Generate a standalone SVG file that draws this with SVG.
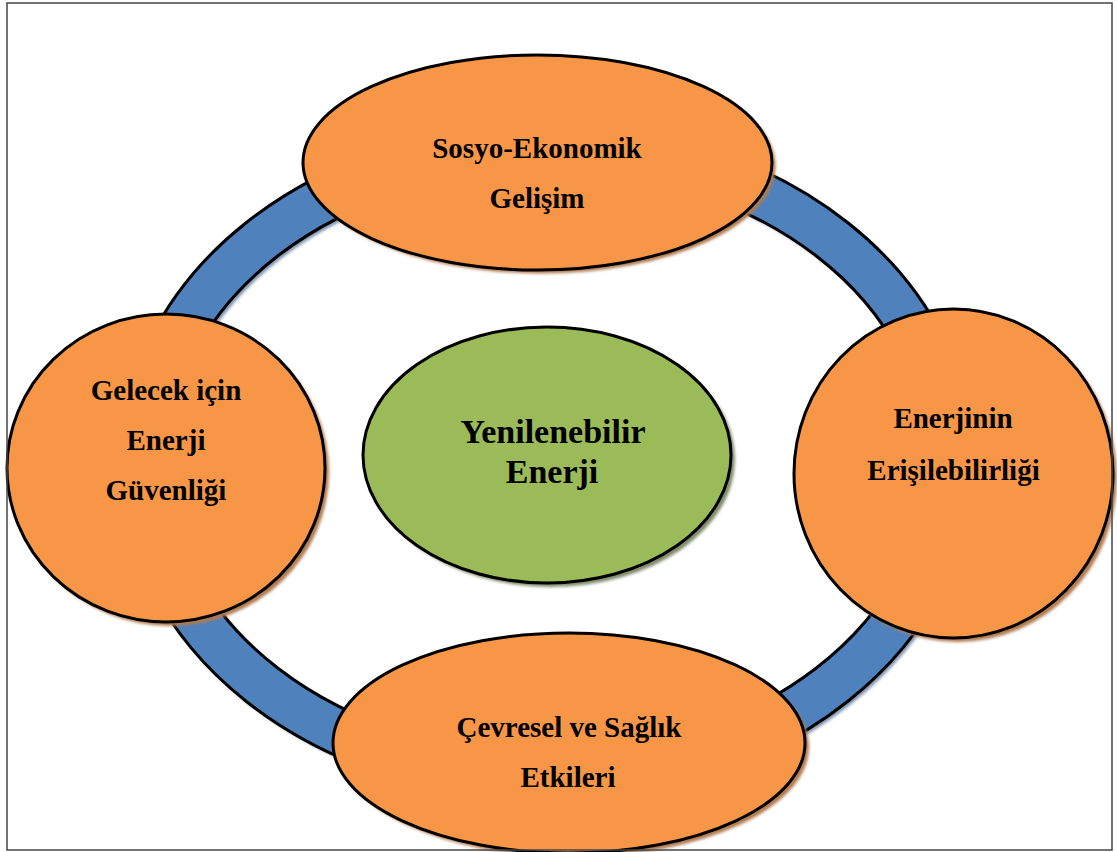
<svg xmlns="http://www.w3.org/2000/svg" width="1117" height="852" viewBox="0 0 1117 852">
  <defs>
    <filter id="soft" x="-10%" y="-10%" width="120%" height="120%">
      <feGaussianBlur stdDeviation="1.6"/>
    </filter>
    <style>
      .page { fill: #ffffff; }
      .frame { fill: none; stroke: #444444; stroke-width: 1.5; }
      .ring { fill: #4f81bd; fill-rule: evenodd; stroke: #000000; stroke-width: 3; }
      .ring-shadow { fill: #7f93ad; fill-rule: evenodd; }
      .orange { fill: #f79646; stroke: #000000; stroke-width: 3; }
      .orange-shadow { fill: #b07a4f; }
      .green { fill: #9bbb59; stroke: #000000; stroke-width: 3; }
      .green-shadow { fill: #7f8a6a; }
      .label { font-family: "Liberation Serif", "Times New Roman", serif; font-weight: bold; font-size: 29px; fill: #000000; text-anchor: middle; }
      .center-label { font-size: 34px; }
    </style>
  </defs>

  <!-- page background -->
  <rect class="page" x="0" y="0" width="1117" height="852"/>

  <!-- cycle band linking the outer topics -->
  <g id="connectors">
    <path class="ring-shadow" filter="url(#soft)" transform="translate(3,3)"
          d="M 121,462 a 426,338 0 1,0 852,0 a 426,338 0 1,0 -852,0 Z M 167,462 a 380,292 0 1,0 760,0 a 380,292 0 1,0 -760,0 Z"/>
    <path class="ring"
          d="M 121,462 a 426,338 0 1,0 852,0 a 426,338 0 1,0 -852,0 Z M 167,462 a 380,292 0 1,0 760,0 a 380,292 0 1,0 -760,0 Z"/>
  </g>

  <!-- centre -->
  <g id="node-center">
    <ellipse class="green-shadow" filter="url(#soft)" cx="551" cy="459" rx="184" ry="128"/>
    <ellipse class="green" cx="547" cy="455" rx="184" ry="128"/>
    <text class="label center-label" x="553" y="443">Yenilenebilir</text>
    <text class="label center-label" x="552" y="483">Enerji</text>
  </g>

  <!-- top -->
  <g id="node-top">
    <ellipse class="orange-shadow" filter="url(#soft)" cx="541" cy="166" rx="234.5" ry="107.5"/>
    <ellipse class="orange" cx="537.5" cy="162.5" rx="234.5" ry="107.5"/>
    <text class="label" x="537" y="158">Sosyo-Ekonomik</text>
    <text class="label" x="537" y="208">Gelişim</text>
  </g>

  <!-- left -->
  <g id="node-left">
    <ellipse class="orange-shadow" filter="url(#soft)" cx="170" cy="472" rx="159" ry="154"/>
    <ellipse class="orange" cx="166" cy="468" rx="159" ry="154"/>
    <text class="label" x="166" y="400">Gelecek için</text>
    <text class="label" x="166" y="450">Enerji</text>
    <text class="label" x="166" y="500">Güvenliği</text>
  </g>

  <!-- right -->
  <g id="node-right">
    <ellipse class="orange-shadow" filter="url(#soft)" cx="957.5" cy="477.5" rx="159.5" ry="164.5"/>
    <ellipse class="orange" cx="953.5" cy="473.5" rx="159.5" ry="164.5"/>
    <text class="label" x="953" y="428">Enerjinin</text>
    <text class="label" x="953.5" y="480">Erişilebilirliği</text>
  </g>

  <!-- bottom -->
  <g id="node-bottom">
    <ellipse class="orange-shadow" filter="url(#soft)" cx="573" cy="747" rx="236" ry="110"/>
    <ellipse class="orange" cx="569" cy="743" rx="236" ry="110"/>
    <text class="label" x="569" y="737">Çevresel ve Sağlık</text>
    <text class="label" x="568" y="787">Etkileri</text>
  </g>

  <!-- page frame, drawn last so it stays on top -->
  <rect class="frame" x="7" y="3" width="1105" height="847"/>
</svg>
